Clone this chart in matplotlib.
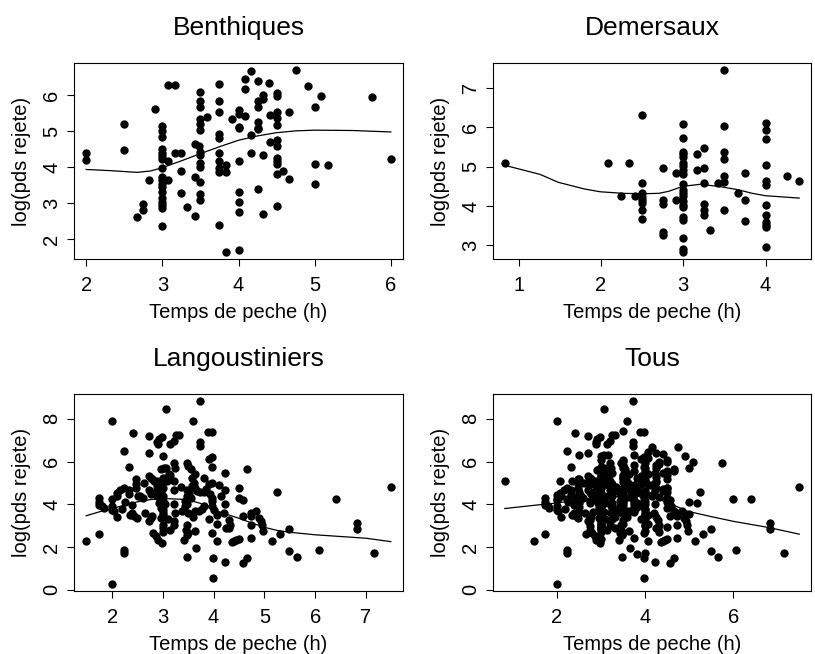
import numpy as np
import matplotlib
matplotlib.use("Agg")
import matplotlib.pyplot as plt

plt.rcParams['font.family'] = ['Liberation Sans', 'DejaVu Sans']

# Benthiques: temps de peche (h) / log(pds rejete)
benth_x = [2, 2, 2.5, 2.5, 2.91, 2.67, 2.75, 2.75, 2.83,
           3, 3, 3, 3, 3, 3, 3, 3, 3, 3, 3, 3, 3, 3, 3, 3, 3, 3,
           3.07, 3.16, 3.08, 3.08, 3.16, 3.25, 3.25, 3.25, 3.33, 3.43, 3.43, 3.43, 3.48,
           3.5, 3.5, 3.5, 3.5, 3.5, 3.5, 3.5, 3.5, 3.5, 3.5, 3.5, 3.5, 3.5, 3.58,
           3.75, 3.75, 3.75, 3.75, 3.75, 3.75, 3.75, 3.75, 3.75, 3.75,
           3.83, 3.83, 3.83, 3.91,
           4, 4, 4, 4, 4, 4, 4, 4, 4,
           4.08, 4.08, 4.08, 4.16, 4.16, 4.16, 4.25,
           4.25, 4.25, 4.25, 4.25, 4.25, 4.25, 4.32, 4.32, 4.32, 4.32, 4.4, 4.41, 4.41,
           4.5, 4.5, 4.5, 4.5, 4.5, 4.5, 4.5, 4.5, 4.5, 4.5, 4.5, 4.5,
           4.58, 4.66, 4.66, 4.75, 4.91, 5.0, 5.0, 5.0, 5.08, 5.17, 5.75, 6.0]
benth_y = [4.41, 4.19, 5.2, 4.48, 5.61, 2.62, 2.99, 2.81, 3.65,
           5.15, 5.0, 4.85, 4.5, 4.41, 4.32, 4.24, 3.97, 3.74, 3.65, 3.55, 3.46, 3.32, 3.14,
           3.05, 2.95, 2.86, 2.37,
           6.29, 6.29, 4.17, 3.65, 4.39, 4.39, 3.9, 3.29, 2.9, 3.74, 2.65, 4.64, 4.59,
           6.09, 5.84, 5.68, 5.33, 5.21, 5.03, 4.43, 4.34, 4.11, 4.01, 3.59, 3.27, 3.09, 5.4,
           6.31, 5.83, 5.54, 4.91, 4.82, 4.41, 4.17, 3.99, 3.88, 2.4,
           4.06, 3.88, 1.66, 5.33,
           5.58, 5.47, 5.12, 5.08, 4.17, 3.32, 3.05, 2.77, 1.71,
           6.44, 6.17, 5.42, 6.67, 4.89, 4.41, 6.39,
           5.83, 5.68, 5.26, 5.1, 5.05, 3.41, 6.0, 5.88, 4.34, 2.7, 6.34, 5.45, 4.71,
           6.05, 5.97, 5.54, 5.37, 5.17, 4.75, 4.59, 4.27, 4.18, 4.09, 3.81, 2.93,
           3.9, 5.54, 3.67, 6.69, 6.25, 5.68, 4.09, 3.53, 5.97, 4.06, 5.94, 4.24]
benth_fit_x = [2.0, 2.3, 2.67, 2.85, 3.0, 3.25, 3.5, 3.75, 4.0, 4.25, 4.5, 4.75, 5.0, 5.5, 6.0]
benth_fit_y = [3.94, 3.91, 3.86, 3.9, 3.99, 4.18, 4.38, 4.57, 4.75, 4.87, 4.96, 5.01, 5.03, 5.02, 4.98]

# Demersaux
dem_x = [0.83, 2.08, 2.24, 2.34, 2.41,
         2.5, 2.5, 2.5, 2.5, 2.5, 2.5, 2.5, 2.5,
         2.75, 2.75, 2.75, 2.75, 2.75, 2.91, 2.91,
         3, 3, 3, 3, 3, 3, 3, 3, 3, 3, 3, 3, 3, 3, 3, 3, 3, 3, 3, 3, 3,
         3.17, 3.17, 3.25, 3.25, 3.25, 3.25, 3.25, 3.25, 3.33, 3.42,
         3.5, 3.5, 3.5, 3.5, 3.5, 3.5, 3.5, 3.67, 3.75, 3.75, 3.75,
         4, 4, 4, 4, 4, 4, 4, 4, 4, 4, 4, 4, 4.26, 4.41]
dem_y = [5.08, 5.08, 4.25, 5.1, 4.25,
         6.3, 4.57, 4.32, 4.23, 4.16, 4.08, 3.89, 3.66,
         4.97, 4.15, 4.06, 3.35, 3.26, 4.84, 4.16,
         6.07, 5.73, 5.37, 5.31, 5.24, 5.09, 5.01, 4.91, 4.82, 4.55, 4.4, 4.33, 4.25, 4.13,
         4.02, 3.98, 3.73, 3.64, 3.2, 2.91, 2.84,
         5.33, 4.91, 5.48, 4.97, 4.59, 4.06, 3.89, 3.77, 3.39, 4.57,
         7.44, 6.02, 5.37, 5.18, 4.76, 4.61, 3.89, 4.32, 4.84, 4.15, 3.62,
         6.11, 5.92, 5.69, 5.03, 4.64, 4.53, 4.02, 3.77, 3.6, 3.53, 3.47, 2.97, 4.76, 4.63]
dem_fit_x = [0.83, 1.26, 1.48, 1.8, 1.99, 2.27, 2.5, 2.7, 2.82, 3.0, 3.21, 3.45, 3.67, 3.84, 4.0, 4.41]
dem_fit_y = [5.03, 4.8, 4.6, 4.43, 4.36, 4.32, 4.31, 4.32, 4.37, 4.5, 4.55, 4.49, 4.41, 4.32, 4.26, 4.2]

# Langoustiniers
lang_x = [1.49, 1.74, 1.74, 1.74, 1.74, 1.8, 1.84,
          2.0, 2.0, 2.0, 2.0, 2.03, 2.0, 2.09, 2.1, 2.16, 2.23, 2.23, 2.24, 2.24, 2.26,
          2.33, 2.33, 2.33, 2.36, 2.39, 2.43, 2.41, 2.39, 2.48, 2.48, 2.48, 2.51, 2.49,
          2.55, 2.63, 2.72, 2.72, 2.72, 2.76, 2.79, 2.82, 2.72, 2.76, 2.77,
          2.72, 2.76, 2.79, 2.81, 2.86, 2.9, 2.99, 2.89, 2.9, 2.92, 2.99, 3.0, 2.96, 3.03,
          3.0, 3.0, 3.0, 2.96, 2.96, 3.0, 2.96, 3.0, 2.93, 2.96, 3.0, 2.96, 3.0, 3.0, 3.0,
          2.96, 3.0, 3.0, 3.0,
          2.89, 2.89, 2.86, 2.89, 3.07, 3.12, 3.09, 3.07, 3.15, 3.22, 3.25, 3.32, 3.15,
          3.22, 3.24, 3.22, 3.22, 3.22, 3.24, 3.22, 3.22, 3.15, 3.41,
          3.47, 3.5, 3.55, 3.47, 3.51, 3.47, 3.43, 3.47, 3.43, 3.49,
          3.47, 3.45, 3.5, 3.48, 3.48, 3.59,
          3.58, 3.61, 3.58, 3.64, 3.68, 3.74, 3.64, 3.64, 3.64, 3.71, 3.78, 3.82, 3.66,
          3.73, 3.74, 3.74, 3.82, 3.82, 3.89, 3.97, 3.91, 3.97, 3.91, 3.97, 3.97,
          3.97, 3.97, 3.97, 4.0, 3.93, 3.97, 3.99, 3.99, 4.07, 4.07, 4.07, 4.15,
          4.22, 4.22, 4.22, 4.22, 4.24, 4.3, 4.3, 4.32, 4.37, 4.4, 4.45, 4.5,
          4.49, 4.5, 4.57, 4.57, 4.65, 4.66, 4.57,
          4.73, 4.73, 4.83, 4.73, 4.73, 4.89, 4.93, 4.96, 4.98,
          5.14, 5.24, 5.31, 5.49, 5.49, 5.65, 6.07, 6.41, 6.82, 6.82, 7.15, 7.49,
          2.1, 2.2, 2.6, 2.65, 3.05, 3.1, 3.35, 3.38, 3.55, 3.6, 3.85, 3.9, 4.1, 4.2]
lang_y = [2.3, 2.6, 4.27, 4.11, 3.98, 3.9, 3.83,
          7.92, 4.25, 3.9, 3.75, 3.67, 0.28, 4.54, 3.39, 4.65, 4.77, 6.5, 1.86, 1.73, 4.11,
          5.75, 4.69, 4.46, 3.51, 3.59, 3.43, 7.32, 3.98, 5.2, 4.96, 4.77, 4.38, 3.35,
          4.38, 5.0, 7.21, 6.38, 5.32, 5.24, 5.17, 5.09, 4.69, 4.58, 4.46,
          3.2, 3.35, 3.43, 2.65, 2.49, 2.33, 2.2, 6.9, 6.82, 7.05, 7.13, 6.27, 5.64, 5.72,
          5.24, 5.09, 4.77, 4.61, 4.46, 4.38, 4.22, 4.14, 4.06, 3.98, 3.9, 3.83, 3.75, 3.59,
          3.51, 3.35, 3.04, 2.88, 2.72,
          5.09, 4.85, 4.61, 4.38, 5.72, 5.4, 5.09, 8.44, 6.82, 6.98, 7.26, 7.26, 2.8,
          5.95, 5.69, 5.09, 4.65, 4.02, 3.59, 3.2, 3.04, 5.37, 2.33,
          5.91, 5.8, 5.64, 4.69, 4.54, 4.38, 4.14, 4.02, 3.9, 3.59,
          3.04, 2.8, 2.65, 2.57, 1.54, 7.92,
          5.24, 5.0, 4.85, 4.77, 4.61, 4.58, 5.4, 2.76, 3.67, 3.7, 3.8, 3.9, 1.94,
          6.9, 6.74, 8.82, 5.24, 4.58, 7.37, 7.4, 6.11, 6.22, 4.93, 5.0, 5.75,
          4.3, 4.14, 3.9, 3.75, 4.46, 2.65, 1.46, 0.57, 3.51, 3.09, 2.3, 4.38,
          5.45, 4.69, 4.02, 1.31, 2.91, 2.91, 3.28, 3.04, 2.25, 2.28, 2.33, 2.38,
          4.77, 4.3, 4.22, 1.23, 5.64, 1.46, 3.43,
          3.59, 3.43, 3.7, 3.04, 2.44, 3.35, 3.2, 3.04, 2.76,
          2.3, 4.57, 2.6, 2.83, 1.83, 1.54, 1.86, 4.25, 3.12, 2.83, 1.73, 4.8,
          4.4, 3.8, 4.3, 3.6, 4.0, 3.3, 4.8, 3.7, 4.3, 3.4, 4.7, 3.3, 4.9, 3.6]
lang_fit_x = [1.49, 1.74, 2.0, 2.49, 2.76, 3.0, 3.48, 3.74, 3.99, 4.24, 4.49, 4.73,
              5.0, 5.26, 5.49, 6.0, 7.0, 7.49]
lang_fit_y = [3.46, 3.64, 3.8, 4.11, 4.22, 4.27, 4.22, 4.04, 3.75, 3.54, 3.35, 3.14,
              2.92, 2.77, 2.69, 2.57, 2.41, 2.25]

# Tous = les trois groupes
tous_x = benth_x + dem_x + lang_x
tous_y = benth_y + dem_y + lang_y
tous_fit_x = [0.83, 1.45, 2.0, 2.51, 2.99, 3.43, 3.72, 4.01, 4.23, 4.6, 4.97, 5.48, 6.0, 6.8, 7.49]
tous_fit_y = [3.8, 3.94, 4.06, 4.2, 4.3, 4.36, 4.38, 4.36, 4.3, 4.0, 3.67, 3.43, 3.2, 2.91, 2.6]

panels = [
    ("Benthiques", benth_x, benth_y, benth_fit_x, benth_fit_y, [2, 3, 4, 5, 6], [2, 3, 4, 5, 6]),
    ("Demersaux", dem_x, dem_y, dem_fit_x, dem_fit_y, [1, 2, 3, 4], [3, 4, 5, 6, 7]),
    ("Langoustiniers", lang_x, lang_y, lang_fit_x, lang_fit_y, [2, 3, 4, 5, 6, 7], [0, 2, 4, 6, 8]),
    ("Tous", tous_x, tous_y, tous_fit_x, tous_fit_y, [2, 4, 6], [0, 2, 4, 6, 8]),
]

W, H = 815, 654
fig = plt.figure(figsize=(W / 100, H / 100), dpi=100)
boxes = [(74, 403, 63, 259), (493, 811, 63, 259), (74, 403, 394, 591), (493, 811, 394, 591)]

for (title, x, y, fx, fy, xt, yt), (l, r, t, b) in zip(panels, boxes):
    ax = fig.add_axes([l / W, 1 - b / H, (r - l) / W, (b - t) / H])
    x = np.array(x)
    y = np.array(y)
    ax.scatter(x, y, s=36, color='black', linewidths=0, zorder=3)
    ax.plot(fx, fy, color='black', lw=0.9, zorder=2)
    dx = (x.max() - x.min()) * 0.04
    dy = (y.max() - y.min()) * 0.04
    ax.set_xlim(x.min() - dx, x.max() + dx)
    ax.set_ylim(y.min() - dy, y.max() + dy)
    ax.set_xticks(xt)
    ax.set_yticks(yt)
    ax.tick_params(direction='out', length=5, width=0.8, labelsize=14.5, pad=7)
    ax.tick_params(axis='y', pad=4)
    for lab in ax.get_yticklabels():
        lab.set_rotation(90)
        lab.set_va('center')
    for s in ax.spines.values():
        s.set_linewidth(0.8)
    ax.set_title(title, fontsize=19, pad=20)
    ax.set_xlabel("Temps de peche (h)", fontsize=14.5, labelpad=6)
    ax.set_ylabel("log(pds rejete)", fontsize=14.5, labelpad=8)

fig.savefig("out.png", dpi=100)
